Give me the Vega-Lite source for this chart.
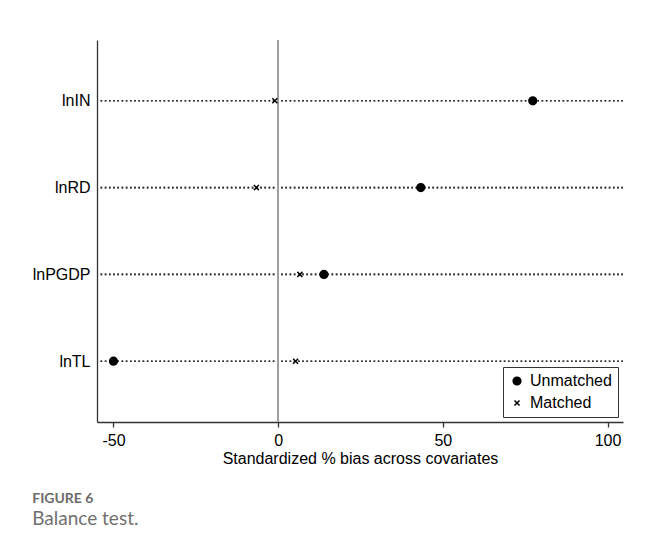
{
  "$schema": "https://vega.github.io/schema/vega-lite/v6.json",
  "width": 526,
  "height": 382,
  "autosize": "none",
  "padding": {"left": 97, "top": 40, "right": 24, "bottom": 128},
  "background": "white",
  "title": {
    "text": "FIGURE 6",
    "subtitle": "Balance test.",
    "orient": "bottom",
    "anchor": "start",
    "frame": "bounds",
    "offset": 26,
    "font": "Lato",
    "fontSize": 14,
    "fontWeight": "bold",
    "color": "#6b6b6b",
    "subtitleFont": "Lato",
    "subtitleFontSize": 19,
    "subtitleColor": "#707070",
    "subtitlePadding": 4
  },
  "data": {
    "values": [
      {"var": "lnIN", "group": "Unmatched", "bias": 77.3},
      {"var": "lnIN", "group": "Matched", "bias": -1.0},
      {"var": "lnRD", "group": "Unmatched", "bias": 43.3},
      {"var": "lnRD", "group": "Matched", "bias": -6.6},
      {"var": "lnPGDP", "group": "Unmatched", "bias": 13.9},
      {"var": "lnPGDP", "group": "Matched", "bias": 6.6},
      {"var": "lnTL", "group": "Unmatched", "bias": -50.0},
      {"var": "lnTL", "group": "Matched", "bias": 5.3}
    ]
  },
  "config": {
    "view": {"stroke": null},
    "font": "Liberation Sans",
    "axis": {
      "labelFont": "Liberation Sans",
      "titleFont": "Liberation Sans",
      "labelFontSize": 16,
      "titleFontSize": 16,
      "labelColor": "black",
      "titleColor": "black",
      "titleFontWeight": "normal",
      "domainColor": "#333333",
      "domainWidth": 1.3,
      "tickColor": "#333333",
      "tickWidth": 1.3,
      "grid": false
    },
    "legend": {
      "labelFont": "Liberation Sans",
      "labelFontSize": 16,
      "labelColor": "black"
    }
  },
  "layer": [
    {
      "mark": {"type": "rule", "color": "#333333", "strokeWidth": 1.6, "strokeDash": [1.6, 2.6]},
      "encoding": {
        "y": {
          "field": "var",
          "type": "nominal",
          "sort": ["lnIN", "lnRD", "lnPGDP", "lnTL"],
          "scale": {"type": "point", "padding": 0.7},
          "axis": {"title": null, "ticks": false, "labelPadding": 7, "domain": true}
        }
      }
    },
    {
      "mark": {"type": "rule", "color": "#a0a0a0", "strokeWidth": 1.5},
      "encoding": {"x": {"datum": 0, "type": "quantitative"}}
    },
    {
      "mark": {"type": "point", "filled": false, "fill": "black", "stroke": "black", "strokeWidth": 1.5, "opacity": 1, "size": 60},
      "encoding": {
        "x": {
          "field": "bias",
          "type": "quantitative",
          "scale": {"domain": [-55, 104.7], "nice": false, "zero": false},
          "axis": {
            "title": "Standardized % bias across covariates",
            "values": [-50, 0, 50, 100],
            "labelExpr": "replace(datum.label, '\u2212', '-')",
            "tickSize": 5,
            "labelPadding": 5,
            "titlePadding": 2
          }
        },
        "y": {
          "field": "var",
          "type": "nominal",
          "sort": ["lnIN", "lnRD", "lnPGDP", "lnTL"]
        },
        "shape": {
          "field": "group",
          "type": "nominal",
          "scale": {"domain": ["Unmatched", "Matched"], "range": ["circle", "M-0.65,-0.65L0.65,0.65M-0.65,0.65L0.65,-0.65"]},
          "legend": {
            "title": null,
            "orient": "bottom-right",
            "offset": 5,
            "strokeColor": "#333333",
            "fillColor": "white",
            "padding": 6,
            "rowPadding": 6,
            "labelOffset": 5,
            "symbolSize": 60,
            "labelLimit": 200,
            "encode": {
              "legend": {"update": {"strokeWidth": {"value": 1.2}}},
              "symbols": {"update": {"stroke": {"value": "black"}, "fill": {"value": "black"}, "strokeWidth": {"value": 1.5}, "opacity": {"value": 1}}}
            }
          }
        }
      }
    }
  ]
}
